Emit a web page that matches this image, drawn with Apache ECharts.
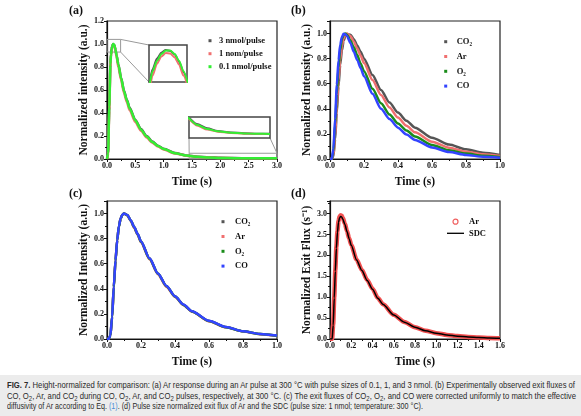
<!DOCTYPE html>
<html>
<head>
<meta charset="utf-8">
<script src="https://cdn.jsdelivr.net/npm/echarts@6/dist/echarts.min.js"></script>
<style>
html, body { margin: 0; padding: 0; background: #fff; }
#main { position: absolute; left: 0; top: 0; width: 581px; height: 375px; }
#caption { position: absolute; left: 0; top: 375px; width: 581px; height: 41px; background: #ececec;
  font-family: "Liberation Sans Narrow", "Liberation Sans", Arial, sans-serif; font-size: 9px; color: #2a2a2a; }
#caption div { position: absolute; left: 7px; white-space: nowrap; transform-origin: 0 0; line-height: 10px; }
#caption .s { font-size: 7px; position: relative; top: 2px; }
#caption .lk { color: #4a8fd6; }
</style>
</head>
<body>
<div id="main"></div>
<div id="caption">
  <div id="cap1" style="top:5px"><b>FIG. 7.</b> Height-normalized for comparison: (a) Ar response during an Ar pulse at 300 °C with pulse sizes of 0.1, 1, and 3 nmol. (b) Experimentally observed exit fluxes of</div>
  <div id="cap2" style="top:16px">CO, O<span class="s">2</span>, Ar, and CO<span class="s">2</span> during CO, O<span class="s">2</span>, Ar, and CO<span class="s">2</span> pulses, respectively, at 300 °C. (c) The exit fluxes of CO<span class="s">2</span>, O<span class="s">2</span>, and CO were corrected uniformly to match the effective</div>
  <div id="cap3" style="top:26px">diffusivity of Ar according to Eq. <span class="lk">(1)</span>. (d) Pulse size normalized exit flux of Ar and the SDC (pulse size: 1 nmol; temperature: 300 °C).</div>
</div>
<script>
var serif = '"Liberation Serif", "Times New Roman", serif';

// (a) Ar pulses of different size
var timeA = [0, 0.02, 0.04, 0.06, 0.07, 0.08, 0.09, 0.10, 0.11, 0.12, 0.13, 0.14, 0.15, 0.17, 0.20, 0.25, 0.30, 0.35, 0.40, 0.50, 0.60, 0.70, 0.80, 0.90, 1.00, 1.20, 1.40, 1.60, 1.80, 2.00, 2.25, 2.50, 2.75, 3.00];
var pulse3 = [0, 0.05, 0.46, 0.83, 0.91, 0.955, 0.98, 0.994, 1.0, 0.998, 0.99, 0.973, 0.948, 0.9, 0.825, 0.705, 0.595, 0.515, 0.445, 0.34, 0.26, 0.2, 0.152, 0.116, 0.089, 0.052, 0.031, 0.02, 0.014, 0.01, 0.008, 0.0068, 0.0062, 0.006];
var pulse1 = [0, 0.04, 0.42, 0.80, 0.89, 0.94, 0.968, 0.985, 0.993, 0.992, 0.983, 0.966, 0.94, 0.885, 0.80, 0.685, 0.575, 0.495, 0.425, 0.322, 0.245, 0.187, 0.142, 0.108, 0.082, 0.048, 0.029, 0.018, 0.012, 0.009, 0.0072, 0.0062, 0.0058, 0.0056];
var pulse01 = [0, 0.05, 0.45, 0.82, 0.905, 0.95, 0.975, 0.991, 0.999, 0.999, 0.991, 0.975, 0.95, 0.895, 0.82, 0.70, 0.59, 0.51, 0.44, 0.335, 0.255, 0.195, 0.148, 0.113, 0.086, 0.05, 0.03, 0.019, 0.013, 0.0095, 0.0075, 0.0065, 0.006, 0.0058];
var namesA = ['3 nmol/pulse', '1 nom/pulse', '0.1 nmol/pulse'];
var peakBox = [0, 0.24, 0.93, 1.04];   // zoomed region (x0, x1, y0, y1)
var tailBox = [1.45, 3.0, 0, 0.05];
var peakView = [0.072, 0.158, 0.925, 1.012];
var tailView = [1.45, 3.0, 0, 0.03];

// (b) raw exit fluxes
var timeB = [0, 0.01, 0.02, 0.03, 0.04, 0.05, 0.06, 0.07, 0.08, 0.09, 0.10, 0.12, 0.14, 0.16, 0.18, 0.20, 0.25, 0.30, 0.35, 0.40, 0.45, 0.50, 0.60, 0.70, 0.80, 0.90, 1.00];
var co2B = [0, 0, 0.022, 0.155, 0.37, 0.58, 0.75, 0.865, 0.94, 0.977, 0.996, 0.99, 0.955, 0.905, 0.855, 0.80, 0.67, 0.55, 0.45, 0.37, 0.305, 0.25, 0.17, 0.115, 0.077, 0.05, 0.032];
var arB = [0, 0, 0.03, 0.18, 0.42, 0.63, 0.79, 0.9, 0.96, 0.99, 1.0, 0.98, 0.935, 0.88, 0.825, 0.765, 0.63, 0.51, 0.41, 0.33, 0.265, 0.213, 0.138, 0.09, 0.058, 0.037, 0.024];
var o2B = [0, 0, 0.06, 0.27, 0.52, 0.73, 0.87, 0.955, 0.99, 1.0, 0.99, 0.945, 0.89, 0.828, 0.762, 0.70, 0.56, 0.445, 0.355, 0.283, 0.227, 0.18, 0.112, 0.07, 0.043, 0.026, 0.016];
var coB = [0, 0, 0.08, 0.32, 0.59, 0.785, 0.91, 0.972, 0.998, 0.995, 0.98, 0.925, 0.855, 0.79, 0.725, 0.66, 0.52, 0.40, 0.318, 0.25, 0.195, 0.152, 0.092, 0.055, 0.032, 0.018, 0.01];
var gasNames = ['CO₂', 'Ar', 'O₂', 'CO'];

// (c) corrected exit fluxes
var co2C = [0, 0, 0.025, 0.17, 0.41, 0.62, 0.785, 0.895, 0.958, 0.99, 1.0, 0.988, 0.945, 0.892, 0.838, 0.778, 0.643, 0.522, 0.422, 0.34, 0.274, 0.22, 0.144, 0.095, 0.062, 0.04, 0.026];
var arC = [0, 0, 0.03, 0.18, 0.42, 0.63, 0.79, 0.9, 0.96, 0.99, 1.0, 0.985, 0.94, 0.885, 0.83, 0.77, 0.635, 0.515, 0.415, 0.335, 0.27, 0.217, 0.142, 0.093, 0.06, 0.038, 0.025];
var o2C = [0, 0, 0.028, 0.175, 0.415, 0.625, 0.788, 0.898, 0.959, 0.99, 1.0, 0.987, 0.943, 0.89, 0.835, 0.775, 0.64, 0.52, 0.42, 0.338, 0.272, 0.219, 0.143, 0.094, 0.061, 0.039, 0.026];
var coC = [0, 0, 0.03, 0.18, 0.42, 0.628, 0.79, 0.9, 0.96, 0.99, 1.0, 0.988, 0.945, 0.892, 0.838, 0.778, 0.643, 0.522, 0.422, 0.34, 0.275, 0.221, 0.145, 0.096, 0.062, 0.04, 0.027];

// (d) Ar vs standard diffusion curve
var timeD = [0, 0.02, 0.03, 0.04, 0.05, 0.06, 0.07, 0.08, 0.09, 0.10, 0.11, 0.12, 0.14, 0.16, 0.18, 0.20, 0.25, 0.30, 0.35, 0.40, 0.45, 0.50, 0.60, 0.70, 0.80, 0.90, 1.00, 1.10, 1.20, 1.30, 1.40, 1.50, 1.60];
var arD = [0, 0, 0.35, 1.0, 1.65, 2.2, 2.58, 2.82, 2.93, 2.96, 2.95, 2.9, 2.76, 2.58, 2.41, 2.25, 1.9, 1.65, 1.41, 1.2, 0.98, 0.83, 0.58, 0.405, 0.283, 0.198, 0.14, 0.098, 0.069, 0.048, 0.034, 0.024, 0.017];
var sdcD = [0, 0, 0.33, 0.98, 1.62, 2.17, 2.55, 2.79, 2.9, 2.93, 2.92, 2.87, 2.74, 2.57, 2.4, 2.24, 1.89, 1.64, 1.4, 1.19, 0.975, 0.825, 0.576, 0.402, 0.281, 0.196, 0.138, 0.096, 0.067, 0.047, 0.033, 0.023, 0.016];

var GRAY = '#555555', RED = '#f07070', LIME = '#33ee33', GREEN = '#1a8c1a', BLUE = '#3344ff';

function pairs(t, v) { return t.map(function (x, i) { return [x, v[i]]; }); }
function tick(v) { return v.toFixed(1); }

var boxA = {left: 107, top: 21, width: 170, height: 138};
var boxB = {left: 330, top: 21, width: 170, height: 138};
var boxC = {left: 107, top: 201, width: 170, height: 138};
var boxD = {left: 330, top: 201, width: 170, height: 138};
var insetPeak = {left: 149, top: 45, width: 38, height: 37};
var insetTail = {left: 189, top: 117, width: 81, height: 21};

function grid(b) {
    return {left: b.left, top: b.top, width: b.width, height: b.height, show: true,
        borderColor: '#222', borderWidth: 1.2, backgroundColor: 'transparent'};
}
function insetGrid(b) {
    return {left: b.left, top: b.top, width: b.width, height: b.height, show: true,
        borderColor: '#444', borderWidth: 1.5, backgroundColor: '#fff', z: 5};
}
var axisCommon = {
    axisLine: {onZero: false, lineStyle: {color: '#111', width: 1.2}},
    axisTick: {show: true, length: 3, lineStyle: {color: '#111'}},
    minorTick: {show: true, splitNumber: 2, length: 2, lineStyle: {color: '#111'}},
    splitLine: {show: false},
    nameLocation: 'middle',
    nameTextStyle: {fontFamily: serif, fontWeight: 'bold', fontSize: 11.5, color: '#111'}
};
function xAxis(gi, max, step) {
    return Object.assign({}, axisCommon, {
        type: 'value', gridIndex: gi, min: 0, max: max, interval: step,
        name: 'Time (s)', nameGap: 17,
        axisLabel: {fontFamily: serif, fontWeight: 'bold', fontSize: 8, color: '#111', margin: 3, formatter: tick}
    });
}
function yAxis(gi, max, step, title, showMax) {
    return Object.assign({}, axisCommon, {
        type: 'value', gridIndex: gi, min: 0, max: max, interval: step,
        name: title, nameGap: 14,
        axisLabel: {fontFamily: serif, fontWeight: 'bold', fontSize: 8, color: '#111', margin: 3,
            formatter: tick, showMaxLabel: showMax}
    });
}
function hiddenAxis(gi, min, max) {
    return {type: 'value', gridIndex: gi, min: min, max: max, show: false};
}
function line(name, gi, t, v, color, w, z) {
    return {type: 'line', name: name, xAxisIndex: gi, yAxisIndex: gi, data: pairs(t, v),
        symbol: 'none', showSymbol: false, smooth: 0.25, smoothMonotone: 'x',
        lineStyle: {color: color, width: w}, itemStyle: {color: color}, z: z || 2};
}
function legend(items, left, top, gap, pad) {
    return {orient: 'vertical', left: left, top: top, data: items, icon: 'rect',
        itemWidth: 3, itemHeight: 3, itemGap: gap, padding: 0,
        formatter: function (n) { return n.split('|')[1]; },
        textStyle: {fontFamily: serif, fontWeight: 'bold', fontSize: 8.5, lineHeight: 10, color: '#111', padding: [0, 0, 0, pad]}};
}
function label(text, left, top) {
    return {text: text, left: left, top: top, padding: 0,
        textStyle: {fontFamily: serif, fontWeight: 'bold', fontSize: 12, color: '#111'}};
}

var series = [
    line('a|' + namesA[0], 0, timeA, pulse3, GRAY, 2.5),
    line('a|' + namesA[1], 0, timeA, pulse1, RED, 2.5),
    line('a|' + namesA[2], 0, timeA, pulse01, LIME, 2.5),
    line('b|' + gasNames[0], 1, timeB, co2B, GRAY, 2.5),
    line('b|' + gasNames[1], 1, timeB, arB, RED, 2.5),
    line('b|' + gasNames[2], 1, timeB, o2B, GREEN, 2.5),
    line('b|' + gasNames[3], 1, timeB, coB, BLUE, 2.5),
    line('c|' + gasNames[0], 2, timeB, co2C, GRAY, 2.5),
    line('c|' + gasNames[1], 2, timeB, arC, RED, 2.5),
    line('c|' + gasNames[2], 2, timeB, o2C, GREEN, 2.5),
    line('c|' + gasNames[3], 2, timeB, coC, BLUE, 2.5),
    line('d|Ar', 3, timeD, arD, '#f25050', 4.5),
    line('d|SDC', 3, timeD, sdcD, '#000', 1.5, 3),
    // insets of (a)
    line('ip|3', 4, timeA, pulse3, GRAY, 2, 6),
    line('ip|1', 4, timeA, pulse1, RED, 2, 6),
    line('ip|0.1', 4, timeA, pulse01, LIME, 2, 6),
    line('it|3', 5, timeA, pulse3, GRAY, 2, 6),
    line('it|1', 5, timeA, pulse1, RED, 2, 6),
    line('it|0.1', 5, timeA, pulse01, LIME, 2, 6)
];
series[0].markArea = {silent: true,
    itemStyle: {color: 'rgba(0,0,0,0)', borderColor: '#999', borderWidth: 1},
    data: [
        [{coord: [peakBox[0], peakBox[2]]}, {coord: [peakBox[1], peakBox[3]]}],
        [{coord: [tailBox[0], tailBox[2]]}, {coord: [tailBox[1], tailBox[3]]}]
    ]};

var legD = legend([
    {name: 'd|Ar', icon: 'circle', itemStyle: {color: '#fff', borderColor: '#f06060', borderWidth: 1.2}},
    {name: 'd|SDC', icon: 'path://M0,0 L18,0 L18,1.4 L0,1.4 Z', itemStyle: {color: '#000', borderWidth: 0}}
], 447, 216.7, 1.6, 0);
legD.itemWidth = 17; legD.itemHeight = 5;

var option = {
    animation: false,
    title: [label('(a)', 69, 5), label('(b)', 291, 5), label('(c)', 69, 188), label('(d)', 291, 188)],
    grid: [grid(boxA), grid(boxB), grid(boxC), grid(boxD), insetGrid(insetPeak), insetGrid(insetTail)],
    xAxis: [xAxis(0, 3.0, 0.5), xAxis(1, 1.0, 0.2), xAxis(2, 1.0, 0.2), xAxis(3, 1.6, 0.2),
        hiddenAxis(4, peakView[0], peakView[1]), hiddenAxis(5, tailView[0], tailView[1])],
    yAxis: [yAxis(0, 1.2, 0.2, 'Normalized intensity (a.u.)', true),
        yAxis(1, 1.1, 0.2, 'Normalized Intensity (a.u.)', false),
        yAxis(2, 1.1, 0.2, 'Normalized Intensity (a.u.)', false),
        yAxis(3, 3.3, 0.5, 'Normalized Exit Flux (s⁻¹)', false),
        hiddenAxis(4, peakView[2], peakView[3]), hiddenAxis(5, tailView[2], tailView[3])],
    legend: [
        legend(namesA.map(function (n) { return 'a|' + n; }), 208.5, 35.7, 3, 2.5),
        legend(gasNames.map(function (n) { return 'b|' + n; }), 444.2, 36.7, 4.8, 4.5),
        legend(gasNames.map(function (n) { return 'c|' + n; }), 221.5, 216.7, 4.8, 5.5),
        legD
    ],
    series: series
};

var chart = echarts.init(document.getElementById('main'));
chart.setOption(option);

// connector lines between zoomed regions and insets
var pTR = chart.convertToPixel({gridIndex: 0}, [peakBox[1], peakBox[3]]);
var pBR = chart.convertToPixel({gridIndex: 0}, [peakBox[1], peakBox[2]]);
var tTL = chart.convertToPixel({gridIndex: 0}, [tailBox[0], tailBox[3]]);
var tTR = chart.convertToPixel({gridIndex: 0}, [tailBox[1], tailBox[3]]);
var tb = insetTail.top + insetTail.height;
function seg(a, b) {
    return {type: 'line', silent: true, z: 4, shape: {x1: a[0], y1: a[1], x2: b[0], y2: b[1]},
        style: {stroke: '#999', lineWidth: 1}};
}
chart.setOption({graphic: [
    seg(pTR, [insetPeak.left, insetPeak.top]),
    seg(pBR, [insetPeak.left, insetPeak.top + insetPeak.height]),
    seg(tTL, [insetTail.left, tb]),
    seg(tTR, [insetTail.left + insetTail.width, tb])
]});

// caption lines stretched to the printed widths
function fit(id, w) {
    var el = document.getElementById(id);
    var r = el.getBoundingClientRect().width;
    el.style.transform = 'scaleX(' + (w / r) + ')';
}
fit('cap1', 568); fit('cap2', 569); fit('cap3', 416);
</script>
</body>
</html>
